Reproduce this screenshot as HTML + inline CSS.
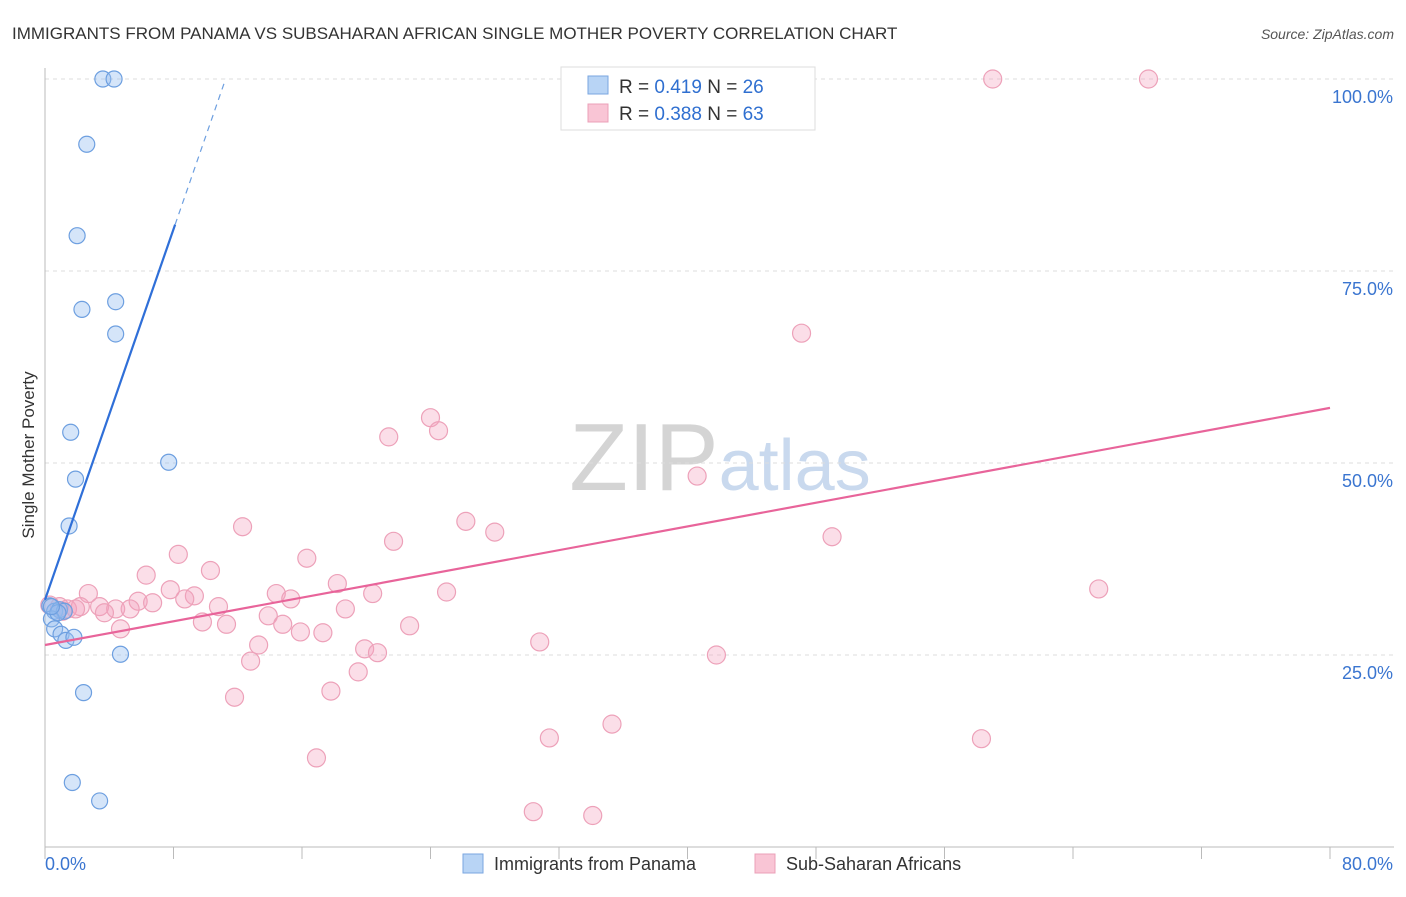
<!DOCTYPE html>
<html><head><meta charset="utf-8"><style>
body{margin:0;background:#fff;font-family:"Liberation Sans",sans-serif;}
svg text{font-family:"Liberation Sans",sans-serif;}
</style></head><body>
<svg id="c" width="1406" height="892">
<text x="12" y="39" font-size="17" fill="#333">IMMIGRANTS FROM PANAMA VS SUBSAHARAN AFRICAN SINGLE MOTHER POVERTY CORRELATION CHART</text>
<text x="1394" y="39" font-size="14" fill="#555" text-anchor="end" font-style="italic">Source: ZipAtlas.com</text>
<text x="720" y="490" font-size="96" fill="#ddd" text-anchor="middle" font-family="Liberation Serif"><tspan fill="#d4d4d4">ZIP</tspan><tspan fill="#c9d9ee" font-family="Liberation Sans" font-size="72">atlas</tspan></text>
<text x="34" y="455" font-size="17" fill="#333" text-anchor="middle" transform="rotate(-90 34 455)">Single Mother Poverty</text>
<g id="grid"></g><g id="marks"></g>
<g>
<rect x="561" y="67" width="254" height="63" fill="#fff" stroke="#ddd"/>
<rect x="588" y="76" width="20" height="18" fill="#b8d4f5" stroke="#7aa6e0"/>
<rect x="588" y="104" width="20" height="18" fill="#f9c5d5" stroke="#eba0b8"/>
<text x="619" y="93" font-size="19" fill="#333">R = <tspan fill="#2f6fd0">0.419</tspan>   N = <tspan fill="#2f6fd0">26</tspan></text>
<text x="619" y="120" font-size="19" fill="#333">R = <tspan fill="#2f6fd0">0.388</tspan>   N = <tspan fill="#2f6fd0">63</tspan></text>
</g>
<g>
<rect x="463" y="854" width="20" height="19" fill="#b8d4f5" stroke="#7aa6e0"/>
<text x="494" y="870" font-size="18" fill="#333">Immigrants from Panama</text>
<rect x="755" y="854" width="20" height="19" fill="#f9c5d5" stroke="#eba0b8"/>
<text x="786" y="870" font-size="18" fill="#333">Sub-Saharan Africans</text>
</g>
</svg>
<script>
const yTicks=[25,50,75,100];
const yTickLabels=["25.0%","50.0%","75.0%","100.0%"];
const xTickCount=[0,8,16,24,32,40,48,56,64,72,80];
const blueX=[3.6,4.3,2.6,2.0,2.3,4.4,4.4,1.6,7.7,1.9,1.5,0.3,0.6,0.9,1.2,0.4,0.6,1.0,1.3,1.8,4.7,2.4,1.7,3.4,0.8,0.4];
const blueY=[100,100,91.5,79.6,70,71,66.8,54,50.1,47.9,41.8,31.4,30.7,30.9,30.7,29.7,28.4,27.7,26.9,27.3,25.1,20.1,8.4,6,30.5,31.3];
const pinkX=[59,68.7,47.1,24,24.5,21.4,40.6,26.2,28,49,12.3,21.7,8.3,16.3,6.3,10.3,18.2,65.6,2.7,7.8,14.4,25,20.4,15.3,9.3,8.7,5.8,6.7,10.8,18.7,0.3,0.9,1.4,2.2,3.4,4.4,5.3,3.7,13.9,9.8,11.3,14.8,4.7,15.9,17.3,22.7,30.8,13.3,19.9,20.7,41.8,12.8,19.5,17.8,11.8,35.3,58.3,31.4,16.9,30.4,34.1,1.1,1.9];
const pinkY=[100,100,66.9,55.9,54.2,53.4,48.3,42.4,41,40.4,41.7,39.8,38.1,37.6,35.4,36,34.3,33.6,33,33.5,33,33.2,33,32.3,32.7,32.3,32,31.8,31.3,31,31.5,31.3,31,31.3,31.3,31,31,30.5,30.1,29.3,29,29,28.4,28,27.9,28.8,26.7,26.3,25.8,25.3,25,24.2,22.8,20.3,19.5,16,14.1,14.2,11.6,4.6,4.1,30.7,31]; 
const blueTrend=[32.2,6.03];
const pinkTrend=[26.3,0.386];
const X0=45,X1=1330,Y0=847,PX=(X1-X0)/80,PY=7.68;
const sx=v=>X0+v*PX, sy=v=>Y0-v*PY;
const NS="http://www.w3.org/2000/svg";
function mk(tag,attrs,parent){const e=document.createElementNS(NS,tag);for(const k in attrs)e.setAttribute(k,attrs[k]);parent.appendChild(e);return e;}
const grid=document.getElementById('grid'),marks=document.getElementById('marks');
yTicks.forEach((t,i)=>{
 const l=mk('line',{x1:X0,x2:1394,y1:sy(t),y2:sy(t),stroke:'#ddd','stroke-dasharray':'4,4'},grid);
 
 
 const tx=mk('text',{x:1393,y:sy(t)+24,'font-size':18,fill:'#3a75d0','text-anchor':'end'},grid);
 tx.textContent=yTickLabels[i];
 
 
});
const ax=mk('line',{x1:X0,x2:1394,y1:Y0,y2:Y0,stroke:'#bbb'},grid);


const ay=mk('line',{x1:X0,x2:X0,y1:68,y2:Y0,stroke:'#bbb'},grid);


xTickCount.forEach(t=>{const l=mk('line',{x1:sx(t),x2:sx(t),y1:Y0,y2:Y0+12,stroke:'#bbb'},grid);
 
 });
[[0,"0.0%",'start',45],[80,"80.0%",'end',1393]].forEach(a=>{const t=mk('text',{x:a[3],y:870,'font-size':18,fill:'#3a75d0','text-anchor':a[2]},grid);t.textContent=a[1];
 
 });
pinkX.forEach((x,i)=>{const c=mk('circle',{cx:sx(x),cy:sy(pinkY[i]),r:9,fill:'rgba(244,160,188,0.35)',stroke:'#eda1b9','stroke-width':1.2},marks);
 
 });
blueX.forEach((x,i)=>{const c=mk('circle',{cx:sx(x),cy:sy(blueY[i]),r:8,fill:'rgba(150,190,240,0.4)',stroke:'#6d9fe0','stroke-width':1.2},marks);
 
 });
const pt=mk('line',{x1:sx(0),y1:sy(pinkTrend[0]),x2:sx(80),y2:sy(pinkTrend[0]+80*pinkTrend[1]),stroke:'#e8649a','stroke-width':2.2},marks);


const xe=8.1,xd=(100-blueTrend[0])/blueTrend[1];
const bt=mk('line',{x1:sx(0),y1:sy(blueTrend[0]),x2:sx(xe),y2:sy(blueTrend[0]+xe*blueTrend[1]),stroke:'#2f6fd8','stroke-width':2.2},marks);


const bd=mk('line',{x1:sx(xe),y1:sy(blueTrend[0]+xe*blueTrend[1]),x2:sx(xd),y2:sy(100),stroke:'#6d9fe0','stroke-width':1.2,'stroke-dasharray':'6,5'},marks);


</script>
</body></html>
